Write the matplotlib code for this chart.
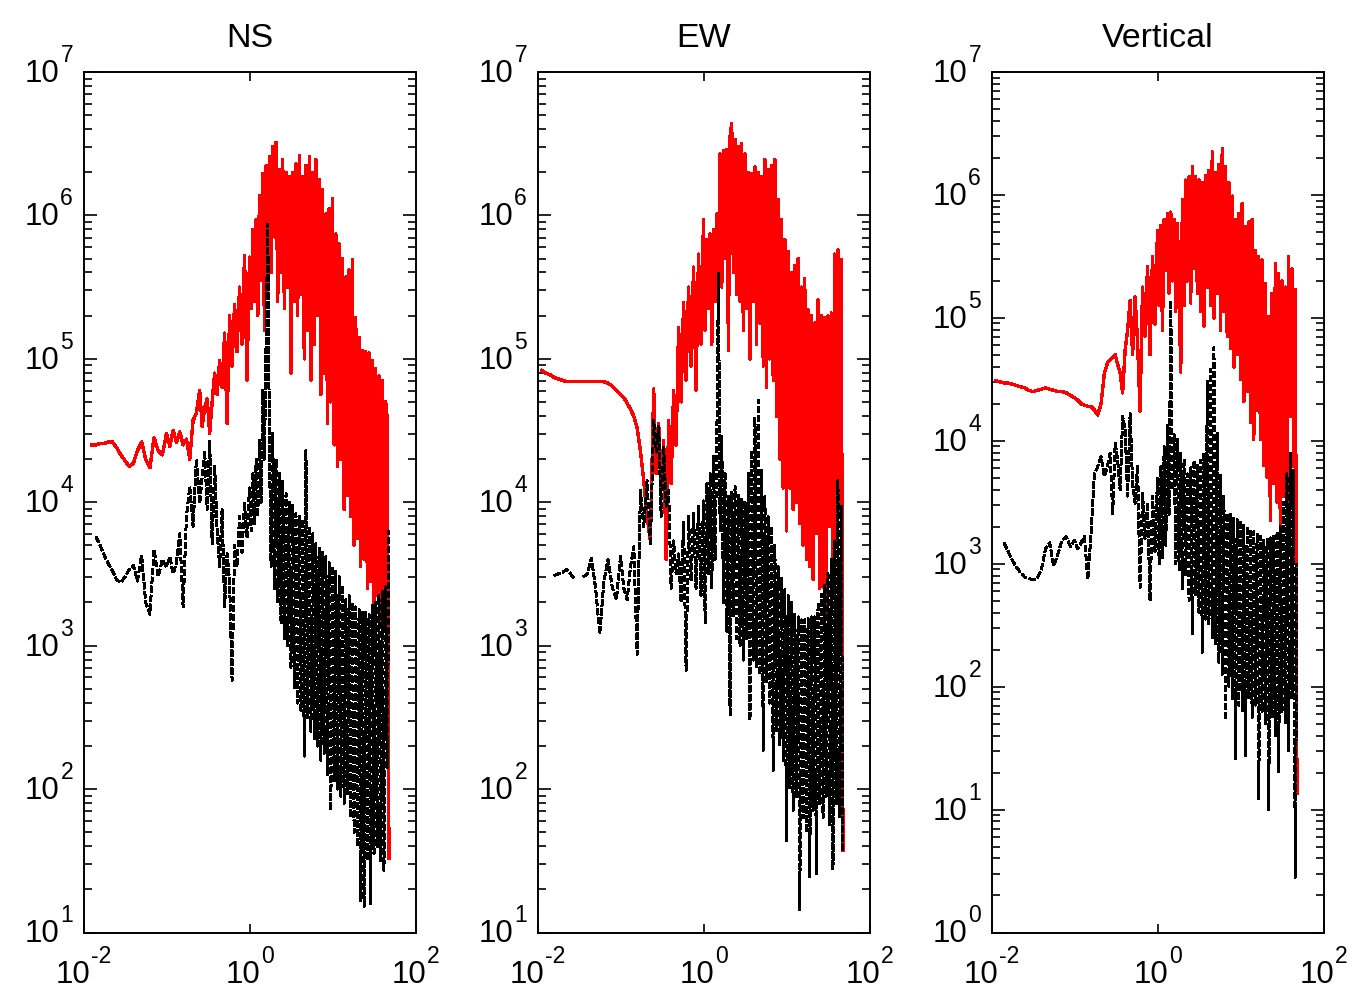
import numpy as np
import matplotlib
matplotlib.use("Agg")
import matplotlib.pyplot as plt
from matplotlib.ticker import (FixedLocator, LogLocator, NullLocator,
                               NullFormatter)

nan = float("nan")

# log10 of frequency (Hz), shared by all spectra
log10_freq_hz = [
    -1.95, -1.90, -1.85, -1.80, -1.75, -1.70, -1.65, -1.60, -1.55, -1.50,
    -1.45, -1.40, -1.35, -1.30, -1.25, -1.20, -1.15, -1.10, -1.05, -1.00,
    -0.96, -0.92, -0.88, -0.84, -0.80, -0.76, -0.72, -0.68, -0.64, -0.60,
    -0.57, -0.54, -0.51, -0.48, -0.45, -0.42, -0.39, -0.36, -0.33, -0.30,
    -0.27, -0.24, -0.21, -0.18, -0.15, -0.12, -0.09, -0.06, -0.03, 0.00,
    0.02, 0.04, 0.06, 0.08, 0.10, 0.12, 0.14, 0.16, 0.18, 0.20,
    0.22, 0.24, 0.26, 0.28, 0.30, 0.32, 0.34, 0.36, 0.38, 0.40,
    0.42, 0.44, 0.46, 0.48, 0.50, 0.52, 0.54, 0.56, 0.58, 0.60,
    0.62, 0.64, 0.66, 0.68, 0.70, 0.72, 0.74, 0.76, 0.78, 0.80,
    0.82, 0.84, 0.86, 0.88, 0.90, 0.92, 0.94, 0.96, 0.98, 1.00,
    1.02, 1.04, 1.06, 1.08, 1.10, 1.12, 1.14, 1.16, 1.18, 1.20,
    1.22, 1.24, 1.26, 1.28, 1.30, 1.32, 1.34, 1.36, 1.38, 1.40,
    1.42, 1.44, 1.46, 1.48, 1.50, 1.52, 1.54, 1.56, 1.58, 1.60,
    1.62, 1.64, 1.66, 1.68,
]

# log10 Fourier amplitude, NS component
ns_red = [
    nan, 4.40, 4.40, 4.41, 4.41, 4.42, 4.42, 4.38, 4.33, 4.29,
    4.25, 4.27, 4.36, 4.42, 4.30, 4.24, 4.45, 4.36, 4.33, 4.48,
    4.39, 4.50, 4.42, 4.49, 4.40, 4.44, 4.30, 4.57, 4.62, 4.78,
    4.53, 4.66, 4.72, 4.48, 4.70, 4.90, 4.75, 4.99, 4.80, 5.18,
    4.55, 5.30, 4.95, 5.38, 5.05, 5.50, 5.10, 5.72, 4.85, 5.71,
    5.35, 5.90, 5.40, 5.97, 5.30, 6.14, 5.55, 6.29, 5.20, 6.35,
    5.45, 6.41, 5.60, 6.48, 5.85, 6.51, 5.40, 6.32, 5.60, 6.39,
    5.35, 6.30, 5.50, 6.27, 4.90, 6.30, 5.40, 6.36, 5.30, 6.42,
    5.45, 6.27, 5.00, 6.35, 5.20, 6.41, 4.85, 6.30, 5.10, 6.39,
    5.30, 6.25, 4.75, 6.18, 4.90, 6.01, 4.55, 6.05, 4.70, 6.12,
    4.40, 5.87, 4.25, 5.80, 4.30, 5.70, 3.95, 5.57, 4.05, 5.62,
    3.90, 5.69, 3.70, 5.29, 3.75, 5.15, 3.55, 5.06, 3.60, 5.05,
    3.40, 5.04, 3.45, 4.99, 3.30, 4.93, 3.35, 4.88, 3.15, 4.85,
    3.20, 4.70, 4.58, 1.52,
]
ns_black = [
    nan, nan, 3.76, 3.70, 3.63, 3.57, 3.52, 3.46, 3.44, 3.48,
    3.53, 3.56, 3.45, 3.63, 3.30, 3.22, 3.67, 3.48, 3.60, 3.55,
    3.62, 3.50, 3.58, 3.78, 3.27, 3.90, 4.11, 3.83, 4.30, 3.99,
    4.18, 4.36, 3.95, 4.43, 3.71, 4.25, 3.80, 3.55, 3.95, 3.27,
    3.64, 3.45, 2.76, 3.70, 3.55, 3.90, 3.65, 4.00, 3.75, 4.10,
    3.80, 4.20, 3.85, 4.30, 3.90, 4.43, 4.00, 4.78, 4.30, 5.10,
    5.94, 4.40, 3.55, 4.48, 3.40, 4.30, 3.30, 4.20, 3.15, 4.15,
    3.05, 4.06, 3.00, 4.00, 2.85, 3.98, 2.70, 3.92, 2.60, 3.90,
    2.55, 3.88, 2.23, 4.36, 2.50, 3.83, 2.40, 3.78, 2.35, 3.71,
    2.30, 3.68, 2.20, 3.65, 2.25, 3.62, 2.10, 3.58, 1.85, 3.55,
    2.05, 3.52, 2.00, 3.48, 1.95, 3.42, 1.90, 3.32, 1.97, 3.35,
    1.80, 3.30, 1.70, 3.27, 1.60, 3.25, 1.22, 3.24, 1.18, 3.23,
    1.50, 3.22, 1.20, 3.28, 1.55, 3.30, 1.60, 3.35, 1.50, 3.38,
    1.43, 3.41, 2.15, 3.80,
]

# log10 Fourier amplitude, EW component
ew_red = [
    4.92, 4.90, 4.89, 4.87, 4.86, 4.85, 4.84, 4.84, 4.84, 4.84,
    4.84, 4.84, 4.84, 4.84, 4.84, 4.84, 4.83, 4.81, 4.78, 4.75,
    4.73, 4.69, 4.65, 4.60, 4.52, 4.36, 4.15, 3.90, 3.73, 4.79,
    4.20, 4.55, 4.10, 4.43, 3.60, 4.57, 4.13, 4.78, 4.40, 5.22,
    4.70, 5.39, 4.85, 5.50, 4.95, 5.64, 4.78, 5.73, 5.10, 5.97,
    5.20, 5.83, 5.35, 5.87, 5.10, 5.90, 5.40, 6.01, 5.30, 6.43,
    5.50, 6.45, 5.70, 6.46, 5.06, 6.55, 6.64, 5.60, 6.53, 5.45,
    6.48, 5.40, 6.50, 5.20, 6.43, 5.35, 6.30, 5.00, 6.29, 5.40,
    6.34, 5.10, 6.30, 5.25, 6.27, 4.95, 6.39, 4.80, 6.32, 5.00,
    6.35, 4.85, 6.39, 4.60, 6.11, 4.30, 5.97, 4.10, 5.83, 3.80,
    5.75, 4.10, 5.60, 3.95, 5.65, 4.00, 5.70, 3.85, 5.50, 3.70,
    5.56, 3.60, 5.34, 3.55, 5.30, 3.46, 5.25, 3.78, 5.41, 3.40,
    5.30, 3.41, 5.29, 3.22, 5.30, 3.83, 5.32, 3.60, 5.73, 3.70,
    5.76, 3.92, 5.69, 1.57,
]
ew_black = [
    nan, nan, nan, 3.49, 3.50, 3.51, 3.53, 3.50, 3.46, nan,
    3.48, 3.50, 3.61, 3.40, 3.08, 3.45, 3.60, 3.41, 3.32, 3.62,
    3.40, 3.32, 3.55, 3.69, 2.94, 4.08, 3.83, 4.15, 3.70, 4.57,
    4.35, 4.53, 3.90, 4.39, 3.97, 4.08, 3.40, 3.73, 3.50, 3.64,
    3.30, 3.87, 2.83, 3.90, 3.45, 3.92, 3.40, 3.97, 3.35, 4.01,
    3.16, 4.13, 3.50, 4.20, 3.40, 4.32, 3.60, 4.40, 5.60, 3.80,
    4.46, 3.30, 4.20, 3.10, 4.04, 2.51, 4.08, 3.20, 4.11, 3.05,
    4.05, 3.00, 4.02, 2.90, 4.01, 3.05, 4.20, 2.48, 4.36, 2.90,
    4.59, 2.85, 4.71, 2.80, 4.22, 2.27, 4.04, 2.75, 3.90, 2.60,
    3.83, 2.13, 3.70, 2.40, 3.55, 2.30, 3.48, 2.20, 3.39, 1.64,
    3.35, 2.00, 3.30, 1.85, 3.22, 1.95, 3.20, 1.16, 3.18, 1.80,
    3.18, 1.70, 3.19, 1.39, 3.20, 1.85, 3.20, 1.41, 3.30, 1.90,
    3.36, 1.80, 3.42, 1.95, 3.50, 1.75, 3.60, 1.44, 3.73, 1.90,
    4.15, 1.80, 3.97, 1.57,
]

# log10 Fourier amplitude, vertical component
vt_red = [
    4.49, 4.48, 4.47, 4.47, 4.46, 4.45, 4.44, 4.43, 4.41, 4.40,
    4.41, 4.42, 4.43, 4.42, 4.41, 4.40, 4.40, 4.39, 4.37, 4.35,
    4.33, 4.30, 4.29, 4.28, 4.28, 4.25, 4.21, 4.30, 4.55, 4.64,
    4.66, 4.68, 4.70, 4.62, 4.55, 4.39, 4.74, 4.90, 5.14, 4.70,
    5.17, 4.80, 4.24, 5.25, 4.85, 5.42, 4.70, 5.50, 4.95, 5.71,
    5.10, 5.75, 4.90, 5.80, 5.39, 5.85, 5.20, 5.86, 5.30, 5.80,
    5.05, 5.77, 5.20, 4.56, 5.96, 5.10, 6.12, 5.30, 6.15, 5.12,
    6.23, 5.40, 6.15, 5.20, 6.12, 5.05, 6.10, 4.93, 6.16, 5.25,
    6.20, 5.10, 6.35, 5.00, 6.18, 5.20, 6.25, 4.90, 6.38, 5.05,
    6.23, 4.85, 6.10, 4.75, 5.99, 4.60, 5.80, 4.70, 5.85, 4.50,
    5.93, 4.32, 5.74, 4.40, 5.78, 4.15, 5.80, 4.01, 5.55, 4.25,
    5.50, 4.01, 5.47, 3.80, 5.28, 3.70, 5.01, 3.35, 5.20, 3.65,
    5.44, 3.50, 5.36, 3.25, 5.30, 3.55, 5.25, 3.46, 5.50, 4.20,
    5.40, 3.79, 5.23, 1.13,
]
vt_black = [
    nan, nan, 3.17, 3.10, 3.03, 2.97, 2.93, 2.89, 2.88, 2.87,
    2.88, 2.95, 3.12, 3.17, 2.98, 3.08, 3.19, 3.22, 3.14, 3.19,
    3.12, 3.17, 3.22, 2.87, 3.25, 3.73, 3.79, 3.87, 3.71, 3.80,
    3.90, 3.41, 3.98, 3.84, 3.60, 4.20, 4.09, 3.55, 4.22, 3.65,
    3.49, 3.80, 2.81, 3.57, 3.20, 3.50, 2.70, 3.55, 3.10, 3.70,
    3.00, 3.79, 3.05, 3.95, 3.15, 4.14, 3.40, 5.14, 3.60, 4.05,
    3.00, 4.01, 2.95, 3.90, 2.80, 3.85, 2.90, 3.73, 2.70, 3.78,
    2.43, 3.84, 2.75, 3.80, 2.60, 3.84, 2.28, 3.90, 2.55, 4.49,
    2.50, 4.58, 2.40, 4.76, 2.35, 4.06, 2.20, 3.73, 2.10, 3.55,
    1.73, 3.41, 2.00, 3.40, 1.90, 3.38, 1.40, 3.36, 1.85, 3.35,
    1.80, 3.32, 1.44, 3.30, 1.90, 3.28, 1.75, 3.26, 1.85, 3.25,
    1.09, 3.22, 1.80, 3.19, 1.70, 3.20, 0.99, 3.21, 1.75, 3.22,
    1.60, 3.26, 1.31, 3.30, 1.80, 3.50, 1.70, 3.73, 1.48, 3.90,
    1.90, 3.76, 0.45, 3.00,
]

titles = ["NS", "EW", "Vertical"]
x_decades = [-2, 0, 2]
y_decades = [(1, 7), (1, 7), (0, 7)]

plt.rcParams["font.family"] = ["Liberation Sans", "DejaVu Sans"]
plt.rcParams["lines.scale_dashes"] = False

W, H, DPI = 1363, 1001, 100
fig = plt.figure(figsize=(W / DPI, H / DPI), dpi=DPI)
renderer = fig.canvas.get_renderer()
PX2PT = 72.0 / DPI

BASE_FS = 22.5   # "10"
EXP_FS = 16.5    # exponent
GAP_PT = 0.5     # space between "10" and its exponent


def text_width_pt(s, fs):
    t = fig.text(0, 0, s, fontsize=fs)
    w = t.get_window_extent(renderer).width * PX2PT
    t.remove()
    return w


W10 = text_width_pt("10", BASE_FS)


def y_power_label(ax, k):
    """'10^k' to the left of the y axis at 10**k."""
    trans = ax.get_yaxis_transform()
    wexp = text_width_pt(f"{k}", EXP_FS)
    right = -7.5
    ax.annotate(f"{k}", xy=(0, 10.0 ** k), xycoords=trans,
                xytext=(right, 7.2), textcoords="offset points",
                ha="right", va="baseline", fontsize=EXP_FS,
                annotation_clip=False)
    ax.annotate("10", xy=(0, 10.0 ** k), xycoords=trans,
                xytext=(right - wexp - GAP_PT, -7.2),
                textcoords="offset points",
                ha="right", va="baseline", fontsize=BASE_FS,
                annotation_clip=False)


def x_power_label(ax, k):
    """'10^k' centred below the x axis at 10**k."""
    trans = ax.get_xaxis_transform()
    exp_txt = f"{k}"
    wexp = text_width_pt(exp_txt, EXP_FS)
    left = -(W10 + GAP_PT + wexp) / 2.0
    ax.annotate("10", xy=(10.0 ** k, 0), xycoords=trans,
                xytext=(left, -36.4), textcoords="offset points",
                ha="left", va="baseline", fontsize=BASE_FS,
                annotation_clip=False)
    ax.annotate(exp_txt, xy=(10.0 ** k, 0), xycoords=trans,
                xytext=(left + W10 + GAP_PT, -22.0),
                textcoords="offset points",
                ha="left", va="baseline", fontsize=EXP_FS,
                annotation_clip=False)


freq = 10.0 ** np.array(log10_freq_hz)
series = [(ns_red, ns_black), (ew_red, ew_black), (vt_red, vt_black)]
left_px = [83.5, 537.5, 991.5]

for i, (red, black) in enumerate(series):
    ax = fig.add_axes([left_px[i] / W, (H - 932.5) / H, 332 / W, 860.5 / H])
    ax.plot(freq, 10.0 ** np.array(red), color="red", lw=1.7,
            antialiased=False)
    ax.plot(freq, 10.0 ** np.array(black), color="black", lw=1.7,
            dashes=(5, 2), antialiased=False)
    ax.set_xscale("log")
    ax.set_yscale("log")
    ax.set_xlim(10.0 ** x_decades[0], 10.0 ** x_decades[-1])
    y_lo, y_hi = y_decades[i]
    ax.set_ylim(10.0 ** y_lo, 10.0 ** y_hi)

    ax.xaxis.set_major_locator(FixedLocator([10.0 ** k for k in x_decades]))
    ax.xaxis.set_minor_locator(NullLocator())
    ax.xaxis.set_major_formatter(NullFormatter())
    ax.yaxis.set_major_locator(LogLocator(base=10, numticks=20))
    ax.yaxis.set_minor_locator(LogLocator(base=10, subs=np.arange(2, 10),
                                          numticks=20))
    ax.yaxis.set_major_formatter(NullFormatter())
    ax.yaxis.set_minor_formatter(NullFormatter())

    ax.tick_params(which="both", direction="in", top=True, right=True,
                   width=1.2, colors="black")
    ax.tick_params(axis="x", which="major", length=6.5)
    ax.tick_params(axis="y", which="major", length=9.5)
    ax.tick_params(axis="y", which="minor", length=5.8)
    for sp in ax.spines.values():
        sp.set_linewidth(1.4)
    ax.set_title(titles[i], fontsize=24.5, pad=18)

    for k in range(y_lo, y_hi + 1):
        y_power_label(ax, k)
    for k in x_decades:
        x_power_label(ax, k)

fig.savefig("out.png", dpi=DPI, facecolor="white")
